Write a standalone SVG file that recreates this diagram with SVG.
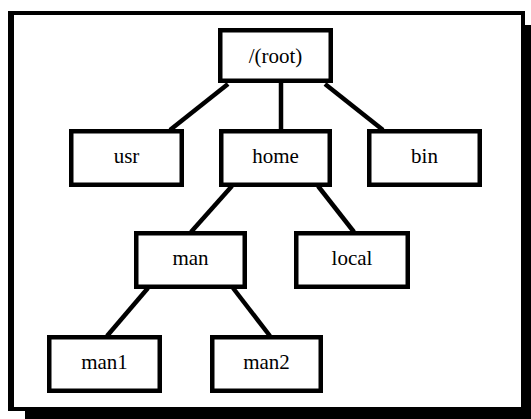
<svg xmlns="http://www.w3.org/2000/svg" width="531" height="419" viewBox="0 0 531 419">
<style>
.node rect{fill:#fff;stroke:#000;stroke-width:4.5}
.node text{font-family:'Liberation Serif','DejaVu Serif',serif;font-size:21px;fill:#000;text-anchor:middle}
.edges line{stroke:#000;stroke-width:4.5;stroke-linecap:butt}
</style>
<g id="frame">
<rect x="25" y="25" width="506" height="394" fill="#000"/>
<rect x="8" y="11" width="517" height="400" fill="#000"/>
<rect x="14" y="15" width="507" height="392" fill="#fff"/>
</g>
<g class="edges" id="connectors">
<line x1="228" y1="84" x2="170" y2="130"/>
<line x1="281" y1="83" x2="281" y2="130"/>
<line x1="325" y1="84" x2="383" y2="130"/>
<line x1="232" y1="186" x2="191" y2="232"/>
<line x1="318" y1="186" x2="354" y2="232"/>
<line x1="148" y1="288" x2="107" y2="336"/>
<line x1="233" y1="288" x2="270" y2="336"/>
</g>
<g class="node" id="root"><rect x="220.25" y="30.25" width="110.5" height="50.5"/><text x="275.5" y="63">/(root)</text></g>
<g class="node" id="usr"><rect x="71.25" y="131.25" width="110.5" height="53.5"/><text x="126.5" y="163">usr</text></g>
<g class="node" id="home"><rect x="221.25" y="131.25" width="108.5" height="53.5"/><text x="275.5" y="163">home</text></g>
<g class="node" id="bin"><rect x="369.25" y="131.25" width="110.5" height="53.5"/><text x="424.5" y="163">bin</text></g>
<g class="node" id="man"><rect x="136.25" y="233.25" width="108.5" height="53.5"/><text x="190.5" y="265">man</text></g>
<g class="node" id="local"><rect x="296.25" y="233.25" width="111.5" height="53.5"/><text x="352" y="265">local</text></g>
<g class="node" id="man1"><rect x="49.25" y="337.25" width="110.5" height="53.5"/><text x="104.5" y="369">man1</text></g>
<g class="node" id="man2"><rect x="212.25" y="337.25" width="108.5" height="53.5"/><text x="266.5" y="369">man2</text></g>
</svg>
